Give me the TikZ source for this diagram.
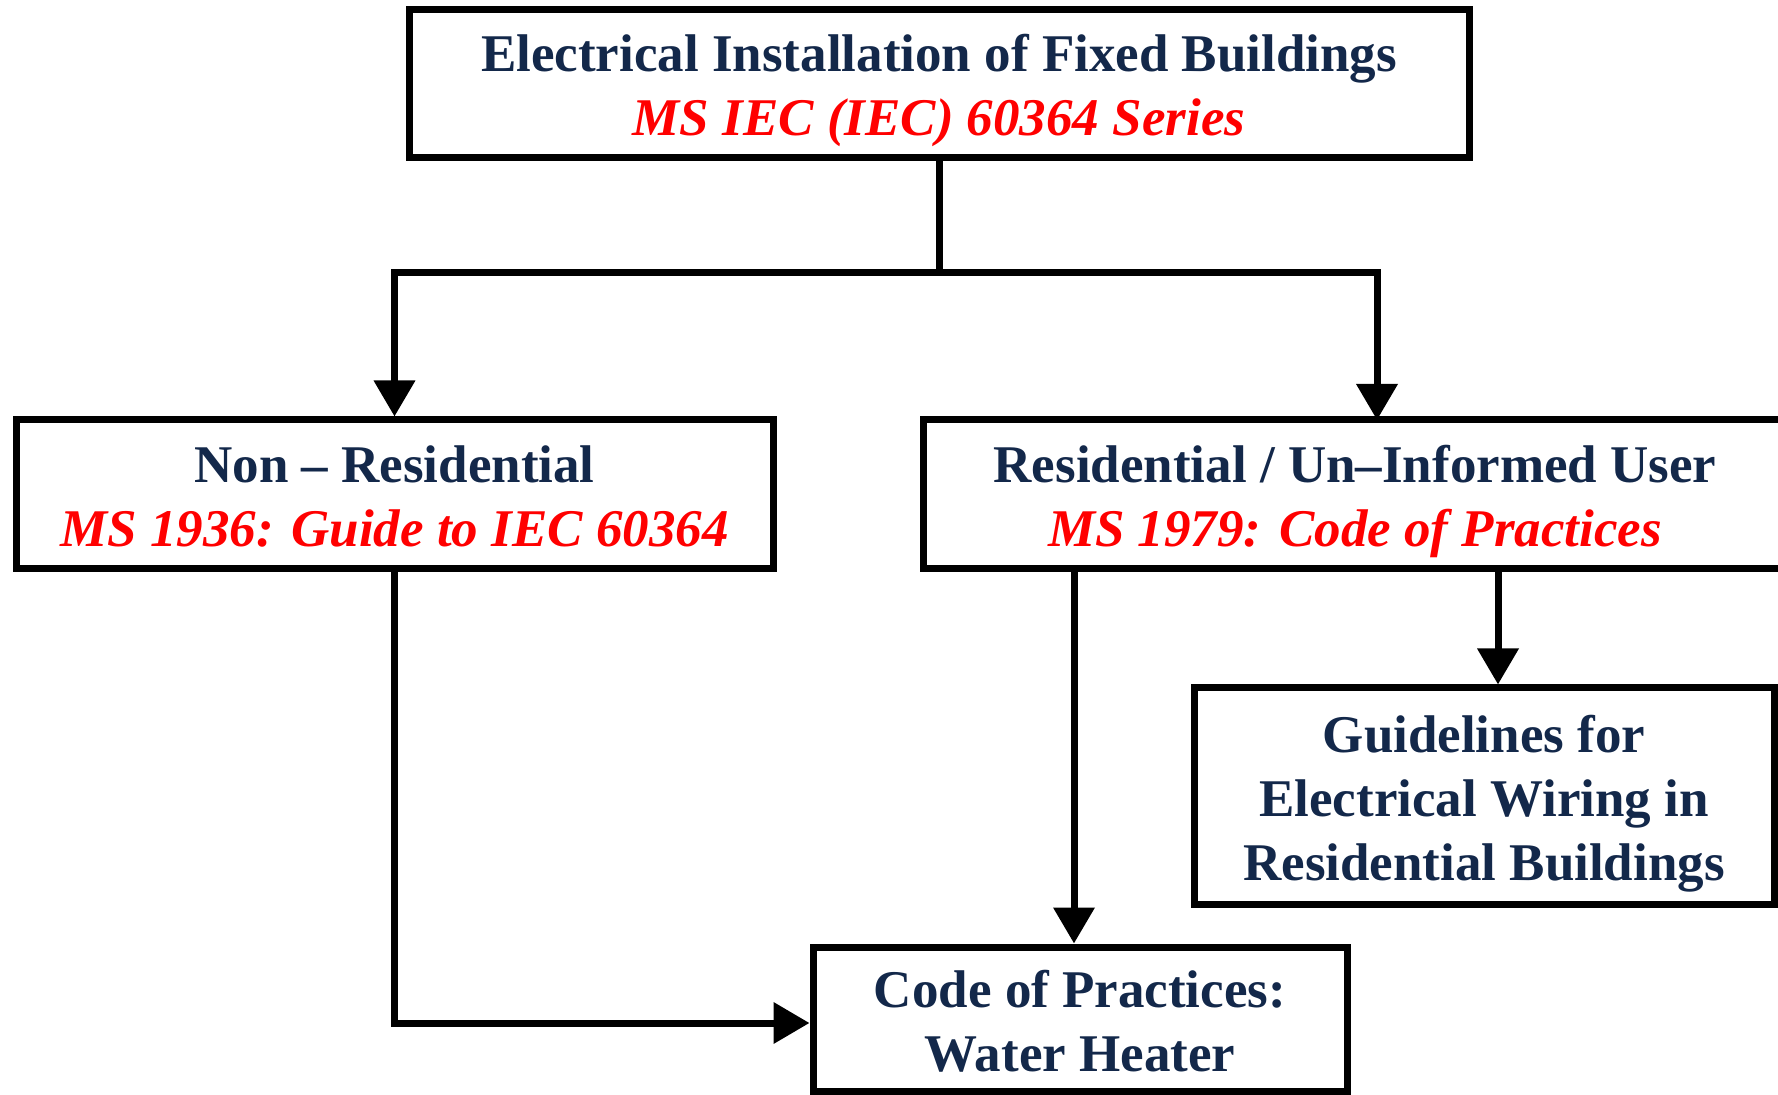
\documentclass[tikz,border=0pt]{standalone}
\usepackage{fontspec}
\setmainfont{Liberation Serif}
\usepackage{tikz}
\usetikzlibrary{arrows.meta,positioning}
\usepackage{xcolor}
\definecolor{Navy}{HTML}{13284A}
\definecolor{StdRed}{HTML}{FF0000}
% fixed line heights so every box text sits alike
\newcommand{\topln}{\rule{0pt}{26pt}}
\newcommand{\botln}{\rule[-6pt]{0pt}{0pt}}

\begin{document}
\begin{tikzpicture}[x=0.5pt,y=-0.5pt,
    box/.style={draw=black,line width=3.5pt,inner sep=0pt,align=center,text=Navy,
      font=\bfseries\fontsize{26.5}{32}\selectfont},
    flow/.style={line width=3.5pt,-{Triangle[length=18pt,width=20pt]}}]
    \useasboundingbox (0,0) rectangle (1778,1095);
    \clip (0,0) rectangle (1778,1095);
    % boxes, sizes in px of the 1778 x 1095 frame
    \node[box,minimum width=530pt,minimum height=74pt] (install) at (939,84)
      {\topln Electrical Installation of Fixed Buildings\\ \textcolor{StdRed}{\itshape MS IEC (IEC) 60364 Series}\botln};
    \node[box,minimum width=378.5pt,minimum height=74.5pt] (nonres) at (394.5,494.5)
      {\topln Non – Residential\\ \textcolor{StdRed}{\itshape MS 1936: Guide to IEC 60364}\botln};
    \node[box,minimum width=432pt,minimum height=74.5pt] (res) at (1355,494.5)
      {\topln Residential / Un–Informed User\\ \textcolor{StdRed}{\itshape MS 1979: Code of Practices}\botln};
    \node[box,minimum width=290pt,minimum height=108pt] (guide) at (1484,796)
      {\topln Guidelines for\\ Electrical Wiring in\\ Residential Buildings\botln};
    \node[box,minimum width=267pt,minimum height=72pt] (code) at (1080,1019)
      {\topln Code of Practices:\\ Water Heater\botln};
    \coordinate (split) at (939,273);
    \coordinate (resTop) at (1377,420);
    \coordinate (codeTop) at ([xshift=-3pt]code.north);
    \coordinate (codeIn) at ([yshift=-2pt]code.west);
    \draw[line width=3.5pt] (install.south) -- (split);
    \draw[flow] (split) -| (nonres.north);
    \draw[flow] (split) -| (resTop);
    \draw[flow] (res.south -| guide.north) ++(14,0) coordinate (resOut) -- (resOut |- guide.north);
    \draw[flow] (res.south -| codeTop) -- (codeTop);
    \draw[flow] (nonres.south) |- (codeIn);
\end{tikzpicture}
\end{document}
